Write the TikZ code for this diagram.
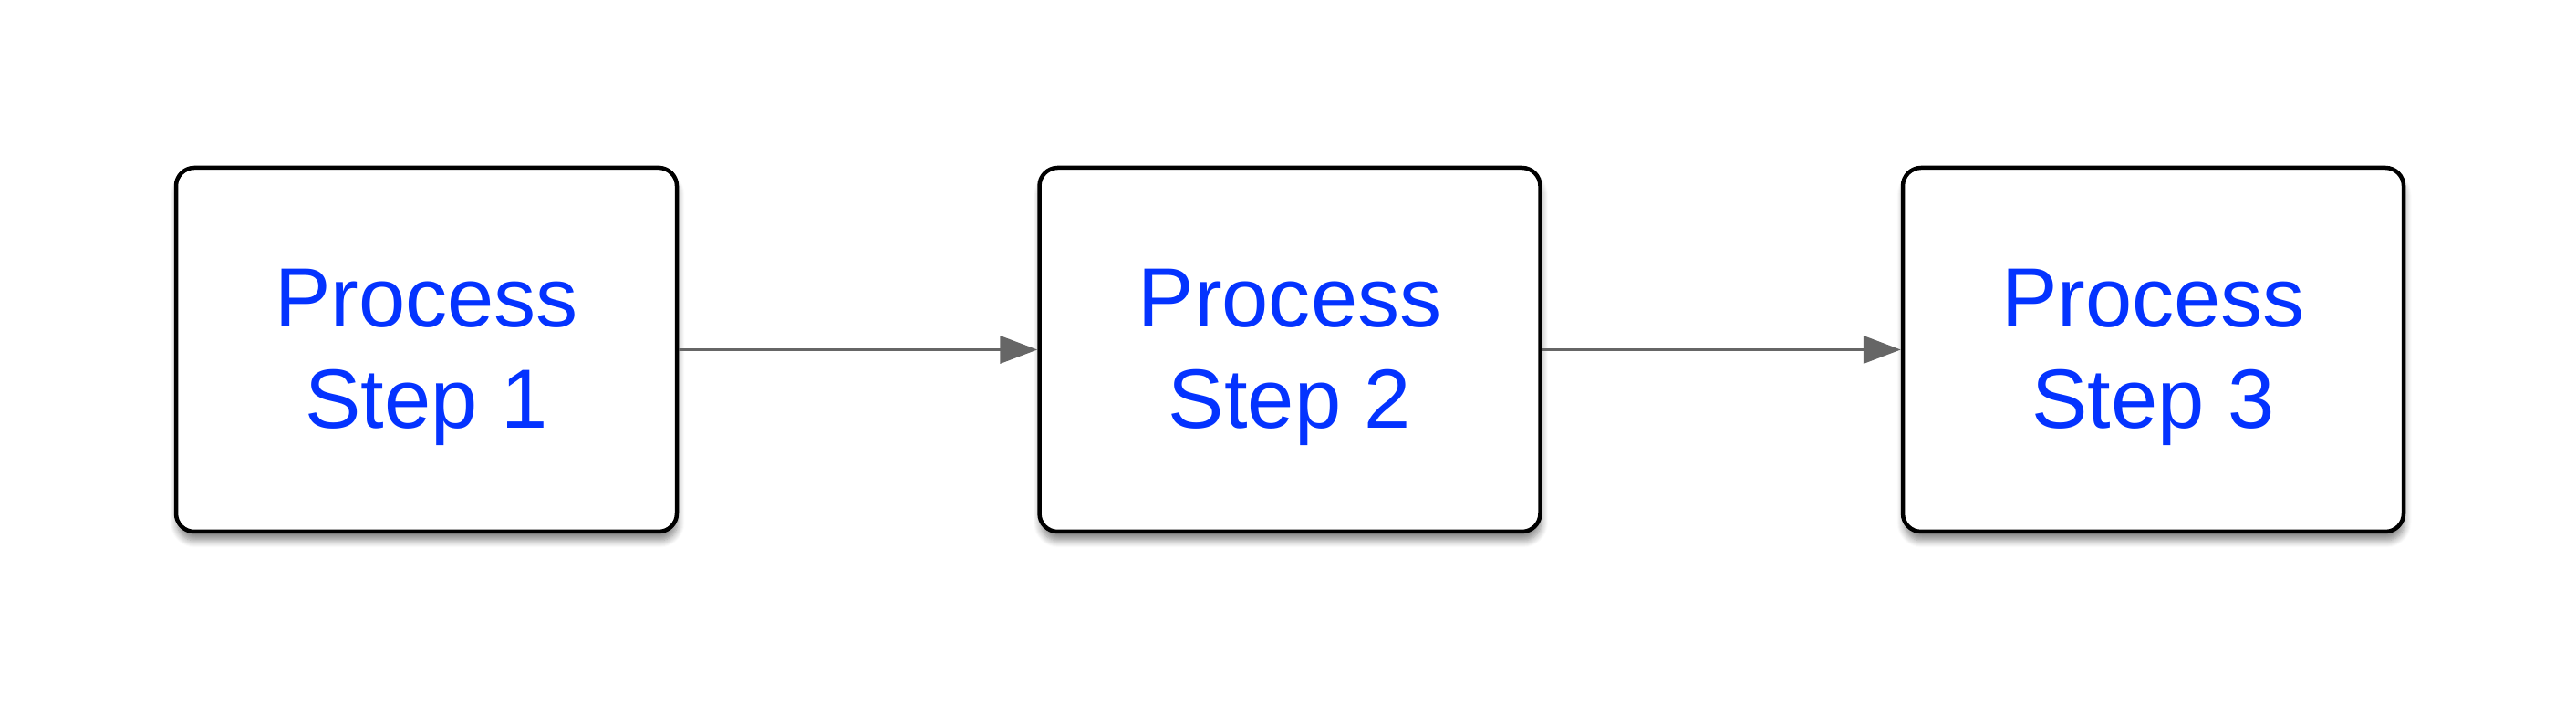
\documentclass[tikz,border=0pt]{standalone}
\usepackage{fontspec}
\setmainfont{Liberation Sans}
\usetikzlibrary{arrows.meta,positioning,shadows.blur}
\definecolor{stepblue}{RGB}{4,51,255}
\definecolor{arrowgray}{RGB}{102,102,102}
\newcommand{\steplift}{\rule{0pt}{0.80cm}}

\begin{document}
\begin{tikzpicture}[auto,node distance=3.93cm,
                    main node/.style={rectangle,draw,rounded corners=0.2cm,line width=0.045cm,fill=white,
                      minimum width=5.49cm,minimum height=3.99cm,align=center,text=stepblue,
                      font=\fontsize{26.2}{31.6}\selectfont,
                      blur shadow={shadow xshift=0.01cm,shadow yshift=-0.1cm,shadow blur steps=8,shadow opacity=45}},
                    flow/.style={-{Triangle[length=0.41cm,width=0.30cm]},draw=arrowgray,line width=0.035cm}]

  \useasboundingbox (0,0) rectangle (28.24,7.83);

  \node[main node] (1) at (4.675,3.995) {\steplift Process\\Step 1};
  \node[main node] (2) [right=of 1] {\steplift Process\\Step 2};
  \node[main node] (3) [right=of 2] {\steplift Process\\Step 3};

  \path
    (1) edge[flow] (2)
    (2) edge[flow] (3);
\end{tikzpicture}
\end{document}
